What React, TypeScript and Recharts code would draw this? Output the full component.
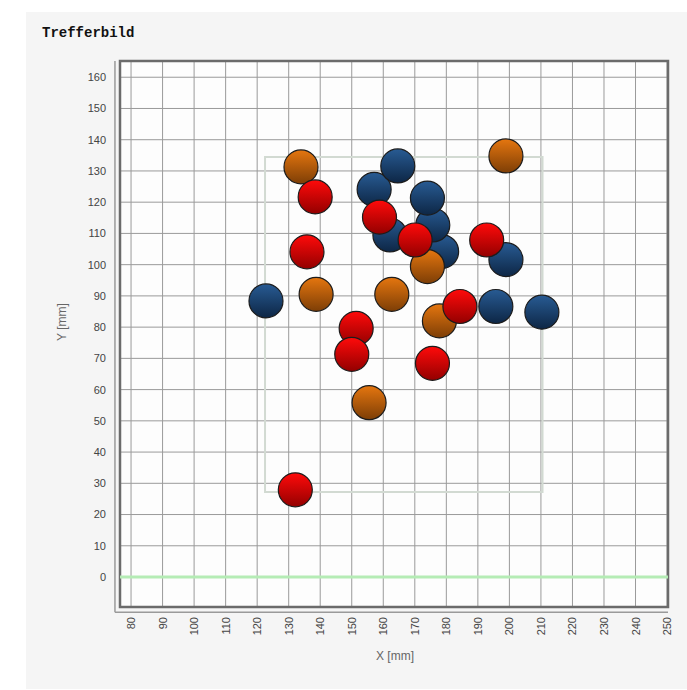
import { ScatterChart, Scatter, XAxis, YAxis, CartesianGrid, ReferenceArea, ReferenceLine } from "recharts";

// shot positions [x, y] in mm
const blueShots = [
  [178.5, 104.2], [175.7, 112.7], [174, 121.3], [162.1, 109.5], [157.1, 124.1],
  [164.6, 131.6], [198.9, 101.6], [122.8, 88.4], [195.7, 86.6], [210.3, 84.8],
];
const orangeShots = [
  [133.9, 131.3], [198.9, 134.8], [138.7, 90.5], [162.7, 90.5], [174, 99.4],
  [177.8, 82], [155.5, 55.8],
];
const redShots = [
  [138.4, 121.7], [135.8, 104.1], [158.8, 115.2], [170.1, 107.9], [192.8, 107.9],
  [184.3, 86.6], [151.4, 79.6], [150, 71.3], [175.6, 68.4], [132.1, 27.9],
];

const xTicks = [80, 90, 100, 110, 120, 130, 140, 150, 160, 170, 180, 190, 200, 210, 220, 230, 240, 250];
const yTicks = [0, 10, 20, 30, 40, 50, 60, 70, 80, 90, 100, 110, 120, 130, 140, 150, 160];

const X_DOMAIN = [76.5, 250.3];
const Y_DOMAIN = [-9.6, 165.2];
// inner target box
const BOX = { x1: 122.5, x2: 210.5, y1: 27.2, y2: 134.5 };

const toPoints = (arr: number[][]) => arr.map(([x, y]) => ({ x, y }));

const Ball = (grad: string) => (props: any) => (
  <circle cx={props.cx} cy={props.cy} r={17} fill={`url(#${grad})`} stroke="#1c1c1c" strokeWidth={1.2} />
);

const XTick = (props: any) => {
  const { x, y, payload } = props;
  return (
    <text x={x} y={y} transform={`rotate(-90, ${x}, ${y})`} textAnchor="end" dominantBaseline="central"
      fontSize={11} fill="#444" fontFamily="Liberation Sans, Arial, sans-serif">
      {payload.value}
    </text>
  );
};

const App = () => {
  return (
    <div style={{ position: "absolute", left: 0, top: 0, width: 687, height: 690, background: "#fff" }}>
      <svg width={0} height={0} style={{ position: "absolute" }}>
        <defs>
          <linearGradient id="gBlue" x1="0" y1="0" x2="0" y2="1">
            <stop offset="0%" stopColor="#285b93" />
            <stop offset="100%" stopColor="#0d2645" />
          </linearGradient>
          <linearGradient id="gOrange" x1="0" y1="0" x2="0" y2="1">
            <stop offset="0%" stopColor="#e5760f" />
            <stop offset="100%" stopColor="#7d3e06" />
          </linearGradient>
          <linearGradient id="gRed" x1="0" y1="0" x2="0" y2="1">
            <stop offset="0%" stopColor="#ff0a0a" />
            <stop offset="100%" stopColor="#930000" />
          </linearGradient>
        </defs>
      </svg>
      <div style={{ position: "absolute", left: 26, top: 12, width: 661, height: 677, background: "#f5f5f5" }} />
      <div style={{ position: "absolute", left: 42, top: 25, fontFamily: "Liberation Mono, Courier New, monospace",
        fontWeight: "bold", fontSize: 14, color: "#111" }}>
        Trefferbild
      </div>
      <div style={{ position: "absolute", left: 62, top: 322, transform: "translate(-50%, -50%) rotate(-90deg)",
        fontFamily: "Liberation Sans, Arial, sans-serif", fontSize: 12, color: "#666", whiteSpace: "nowrap" }}>
        Y [mm]
      </div>
      <div style={{ position: "absolute", left: 395, top: 656, transform: "translate(-50%, -50%)",
        fontFamily: "Liberation Sans, Arial, sans-serif", fontSize: 12, color: "#666", whiteSpace: "nowrap" }}>
        X [mm]
      </div>
      <div style={{ position: "absolute", left: 0, top: 0 }}>
        <ScatterChart width={687} height={690} margin={{ top: 61, right: 19, bottom: 33, left: 60 }}>
          <CartesianGrid stroke="#9a9a9a" strokeWidth={1} fill="#fdfdfd" horizontalValues={yTicks} verticalValues={xTicks} />
          <XAxis type="number" dataKey="x" domain={X_DOMAIN} ticks={xTicks} allowDataOverflow
            height={50} axisLine={false} tickLine={false} tickSize={0} tickMargin={10} tick={<XTick />} interval={0} />
          <YAxis type="number" dataKey="y" domain={Y_DOMAIN} ticks={yTicks} allowDataOverflow
            width={60} axisLine={false} tickLine={false} tickSize={0} tickMargin={14} interval={0}
            tick={{ fontSize: 11, fill: "#444", fontFamily: "Liberation Sans, Arial, sans-serif" }} />
          <ReferenceLine y={0} stroke="#b5ecb5" strokeWidth={3} />
          <ReferenceArea x1={BOX.x1} x2={BOX.x2} y1={BOX.y1} y2={BOX.y2} fill="none" stroke="#d2dad2" strokeWidth={2} />
          <ReferenceArea x1={X_DOMAIN[0]} x2={X_DOMAIN[1]} y1={Y_DOMAIN[0]} y2={Y_DOMAIN[1]} fill="none"
            stroke="#6b6b6b" strokeWidth={2.5} fillOpacity={0} />
          <ReferenceLine segment={[{ x: 74.9, y: -11.3 }, { x: 74.9, y: Y_DOMAIN[1] }]} stroke="#9a9a9a" strokeWidth={1.5} ifOverflow="visible" />
          <ReferenceLine segment={[{ x: 74.9, y: -11.3 }, { x: X_DOMAIN[1], y: -11.3 }]} stroke="#9a9a9a" strokeWidth={1.5} ifOverflow="visible" />
          <Scatter data={toPoints(blueShots)} shape={Ball("gBlue")} isAnimationActive={false} />
          <Scatter data={toPoints(orangeShots)} shape={Ball("gOrange")} isAnimationActive={false} />
          <Scatter data={toPoints(redShots)} shape={Ball("gRed")} isAnimationActive={false} />
        </ScatterChart>
      </div>
    </div>
  );
};

export default App;
